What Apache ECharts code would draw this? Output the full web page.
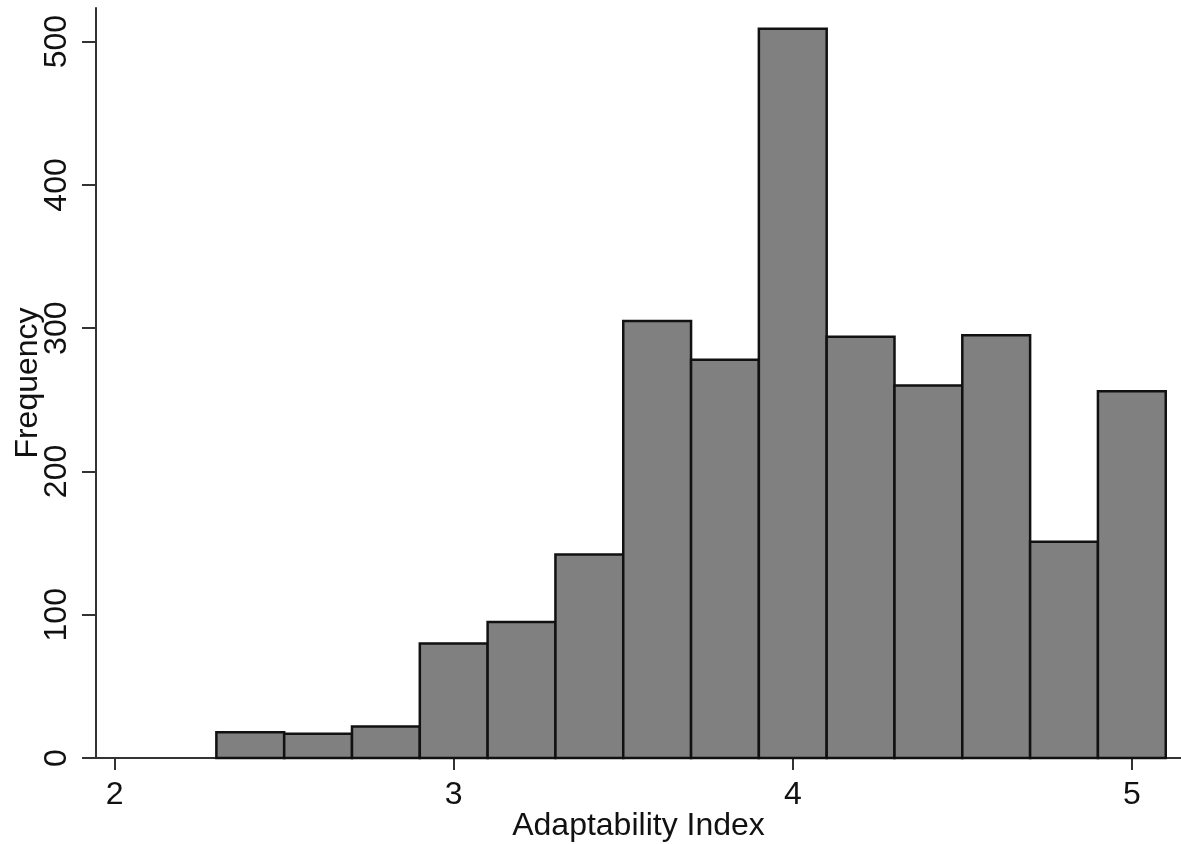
<!DOCTYPE html>
<html>
<head>
<meta charset="utf-8">
<script src="https://cdn.jsdelivr.net/npm/echarts@6/dist/echarts.min.js"></script>
<style>html,body{margin:0;padding:0;background:#fff}#c{width:1181px;height:844px}</style>
</head>
<body>
<div id="c"></div>
<script>
var binStarts = [2.3, 2.5, 2.7, 2.9, 3.1, 3.3, 3.5, 3.7, 3.9, 4.1, 4.3, 4.5, 4.7, 4.9];
var counts = [18, 17, 22, 80, 95, 142, 305, 278, 509, 294, 260, 295, 151, 256];
var binWidth = 0.2;
var xTicks = [2, 3, 4, 5];
var yTicks = [0, 100, 200, 300, 400, 500];
var xTitle = 'Adaptability Index';
var yTitle = 'Frequency';

var data = binStarts.map(function (s, i) { return [s, s + binWidth, counts[i]]; });
var font = 'Liberation Sans, Arial, sans-serif';
var fs = 32;
var chart = echarts.init(document.getElementById('c'));
chart.setOption({
  animation: false,
  grid: { left: 96, top: 8, right: 0, bottom: 86, outerBoundsMode: 'none', containLabel: false },
  xAxis: [{
    type: 'value', min: 1.945, max: 5.145,
    name: xTitle, nameLocation: 'middle', nameGap: 52, nameMoveOverlap: false,
    nameTextStyle: { fontFamily: font, fontSize: fs, color: '#111' },
    axisLine: { show: true, onZero: false, lineStyle: { color: '#333', width: 2 } },
    axisTick: { show: true, length: 12, customValues: xTicks, lineStyle: { color: '#333', width: 2 } },
    axisLabel: { customValues: xTicks, margin: 21, fontFamily: font, fontSize: fs, color: '#111' },
    splitLine: { show: false }
  }, {
    type: 'value', min: 1.945, max: 5.145, position: 'top',
    axisLine: { show: true, lineStyle: { color: '#333', width: 2 } },
    axisTick: { show: false }, axisLabel: { show: false }, splitLine: { show: false }
  }],
  yAxis: {
    type: 'value', min: 0, max: 523.5,
    name: yTitle, nameLocation: 'middle', nameGap: 52, nameRotate: 90, nameMoveOverlap: false,
    nameTextStyle: { fontFamily: font, fontSize: fs, color: '#111' },
    axisLine: { show: true, lineStyle: { color: '#333', width: 2 } },
    axisTick: { show: true, length: 14, customValues: yTicks, lineStyle: { color: '#333', width: 2 } },
    axisLabel: { customValues: yTicks, rotate: 90, margin: 23, fontFamily: font, fontSize: fs, color: '#111' },
    splitLine: { show: false }
  },
  series: [{
    type: 'custom',
    data: data,
    encode: { x: [0, 1], y: 2 },
    renderItem: function (params, api) {
      var p0 = api.coord([api.value(0), api.value(2)]);
      var p1 = api.coord([api.value(1), 0]);
      return {
        type: 'rect',
        shape: { x: p0[0], y: p0[1], width: p1[0] - p0[0], height: p1[1] - p0[1] },
        style: { fill: '#808080', stroke: '#111', lineWidth: 2.5 }
      };
    }
  }]
});
</script>
</body>
</html>
